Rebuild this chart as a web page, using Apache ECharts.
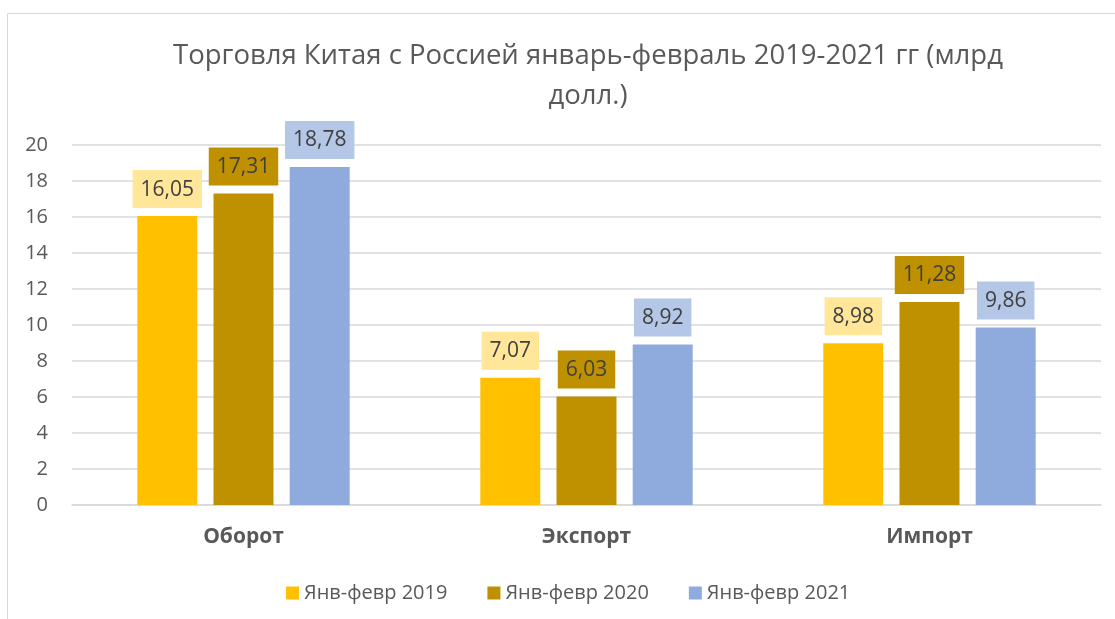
<!DOCTYPE html>
<html><head><meta charset="utf-8">
<script src="https://cdn.jsdelivr.net/npm/echarts@6/dist/echarts.min.js"></script>
<style>html,body{margin:0;padding:0;background:#fff}#c{width:1115px;height:619px}</style>
</head><body><div id="c"></div>
<script>
const categories = ['Оборот', 'Экспорт', 'Импорт'];
const seriesNames = ['Янв-февр 2019', 'Янв-февр 2020', 'Янв-февр 2021'];
const v2019 = [16.05, 7.07, 8.98];
const v2020 = [17.31, 6.03, 11.28];
const v2021 = [18.78, 8.92, 9.86];
const yTicks = {min: 0, max: 20, interval: 2};

const FONT = '"Open Sans", "Noto Sans", sans-serif';
const barColors = ['#FFC000', '#BF9000', '#8FAADC'];
const labelBg = ['#FFE699', '#BF9000', '#B4C7E7'];
const values = [v2019, v2020, v2021];

const chart = echarts.init(document.getElementById('c'));
chart.setOption({
  animation: false,
  textStyle: {fontFamily: FONT},
  title: {
    text: 'Торговля Китая с Россией январь-февраль 2019-2021 гг (млрд\nдолл.)',
    left: 583, top: 31, textAlign: 'center',
    textStyle: {fontFamily: FONT, fontSize: 27.5, fontWeight: 'normal', color: '#595959', lineHeight: 40}
  },
  graphic: [{type: 'rect', shape: {x: 7.5, y: 13.5, width: 1130, height: 640}, style: {fill: 'none', stroke: '#D9D9D9', lineWidth: 1}, silent: true, z: -1}],
  legend: {
    data: seriesNames, top: 578, left: 281, itemWidth: 13, itemHeight: 13, itemGap: 40,
    icon: 'rect',
    textStyle: {fontFamily: FONT, fontSize: 20, color: '#595959'}
  },
  grid: {left: 72, right: 14, top: 145, bottom: 114, containLabel: false},
  xAxis: {
    type: 'category', data: categories,
    axisLine: {lineStyle: {color: '#D9D9D9', width: 1.5}},
    axisTick: {show: false},
    axisLabel: {margin: 22, fontFamily: FONT, fontSize: 21, fontWeight: 'bold', color: '#595959'}
  },
  yAxis: {
    type: 'value', min: yTicks.min, max: yTicks.max, interval: yTicks.interval,
    axisLine: {show: false}, axisTick: {show: false},
    axisLabel: {margin: 24, fontFamily: FONT, fontSize: 20, color: '#595959'},
    splitLine: {lineStyle: {color: '#D9D9D9', width: 1.5}}
  },
  series: seriesNames.map((n, i) => ({
    name: n, type: 'bar', data: values[i], barWidth: 60, barGap: '27%',
    itemStyle: {color: barColors[i]},
    label: {
      show: true, position: 'top', distance: 8,
      formatter: p => p.value.toFixed(2).replace('.', ','),
      fontFamily: FONT, fontSize: 21, color: '#404040',
      backgroundColor: labelBg[i], padding: [9, 8, 8, 8]
    }
  }))
});
</script></body></html>
